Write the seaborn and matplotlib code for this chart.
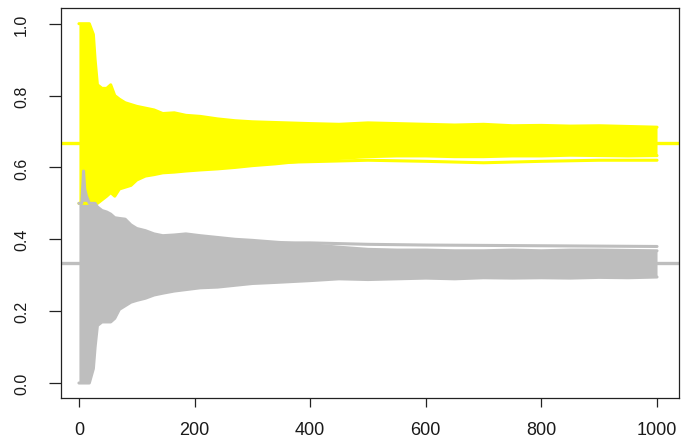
import matplotlib
matplotlib.use("Agg")
import matplotlib.pyplot as plt
import seaborn as sns

steps = [0, 5, 8, 10, 13, 18, 25, 28, 32, 40, 48, 55, 62, 70, 80, 90, 100,
         115, 130, 145, 165, 185, 210, 240, 270, 300, 340, 400, 450, 500, 550,
         600, 650, 700, 750, 800, 850, 900, 950, 1000]

# envelope of the yellow runs (proportion of successes)
yellow_upper = [1.0, 1.0, 1.0, 1.0, 1.0, 1.0, 0.97, 0.90, 0.83, 0.82, 0.82,
                0.83, 0.80, 0.79, 0.78, 0.775, 0.77, 0.765, 0.76, 0.75, 0.752,
                0.745, 0.742, 0.735, 0.73, 0.727, 0.725, 0.722, 0.72, 0.724,
                0.722, 0.72, 0.718, 0.72, 0.716, 0.717, 0.715, 0.716, 0.714,
                0.712]
yellow_lower = [0.5, 0.5, 0.5, 0.5, 0.5, 0.5, 0.5, 0.5, 0.5, 0.51, 0.52, 0.53,
                0.52, 0.54, 0.545, 0.55, 0.565, 0.576, 0.58, 0.585, 0.587,
                0.59, 0.593, 0.596, 0.60, 0.605, 0.61, 0.62, 0.625, 0.63,
                0.632, 0.632, 0.63, 0.63, 0.632, 0.632, 0.634, 0.633, 0.632,
                0.633]

# envelope of the grey runs (proportion of failures)
grey_upper = [0.5, 0.5, 0.59, 0.54, 0.52, 0.5, 0.5, 0.5, 0.49, 0.48, 0.476,
              0.47, 0.46, 0.458, 0.456, 0.44, 0.43, 0.424, 0.415, 0.41, 0.412,
              0.415, 0.41, 0.405, 0.40, 0.397, 0.392, 0.385, 0.378, 0.372,
              0.37, 0.37, 0.368, 0.368, 0.37, 0.368, 0.37, 0.37, 0.369, 0.368]
grey_lower = [0.0, 0.0, 0.0, 0.0, 0.0, 0.0, 0.04, 0.10, 0.16, 0.17, 0.17,
              0.17, 0.18, 0.205, 0.215, 0.225, 0.23, 0.236, 0.245, 0.25,
              0.256, 0.26, 0.265, 0.267, 0.272, 0.277, 0.28, 0.285, 0.29,
              0.288, 0.29, 0.292, 0.29, 0.293, 0.292, 0.293, 0.292, 0.294,
              0.293, 0.295]

# a couple of runs that stray just outside the bands
stray_steps = [300, 400, 500, 600, 700, 800, 900, 1000]
yellow_stray = [0.612, 0.616, 0.62, 0.617, 0.613, 0.617, 0.62, 0.62]
grey_stray = [0.39, 0.39, 0.386, 0.384, 0.383, 0.382, 0.381, 0.38]

# expected values
p_success = 2 / 3
p_fail = 1 / 3

YELLOW = "#FFFF00"
GREY = "#BEBEBE"

sns.set_style("white")
plt.rcParams["font.family"] = ["Liberation Sans", "DejaVu Sans"]

fig = plt.figure(figsize=(6.81, 4.39), dpi=100)
ax = fig.add_axes([61 / 681, 1 - 399 / 439, 618 / 681, 390 / 439])

ax.axhline(p_success, color=YELLOW, lw=2.4, zorder=1)
ax.axhline(p_fail, color=GREY, lw=2.4, zorder=1)

for upper, lower, stray, col in [(yellow_upper, yellow_lower, yellow_stray, YELLOW),
                                 (grey_upper, grey_lower, grey_stray, GREY)]:
    ax.fill_between(steps, lower, upper, color=col, lw=0, zorder=2)
    sns.lineplot(x=steps, y=upper, color=col, lw=2.2, estimator=None, ax=ax, zorder=3)
    sns.lineplot(x=steps, y=lower, color=col, lw=2.2, estimator=None, ax=ax, zorder=3)
    sns.lineplot(x=stray_steps, y=stray, color=col, lw=2.2, estimator=None, ax=ax, zorder=3)

ax.set_xlim(-31, 1038)
ax.set_ylim(-0.0417, 1.0437)
ax.set_xticks([0, 200, 400, 600, 800, 1000])
ax.set_yticks([0.0, 0.2, 0.4, 0.6, 0.8, 1.0])
ax.set_yticklabels(["0.0", "0.2", "0.4", "0.6", "0.8", "1.0"], rotation=90, va="center")
ax.tick_params(axis="x", direction="out", length=6.5, width=0.9, color="#222222",
               labelsize=13, pad=10, labelcolor="#1a1a1a", bottom=True)
ax.tick_params(axis="y", direction="out", length=9, width=0.9, color="#222222",
               labelsize=11.5, pad=14, labelcolor="#1a1a1a", left=True)
ax.set_xlabel("")
ax.set_ylabel("")
for s in ax.spines.values():
    s.set_color("#222222")
    s.set_linewidth(0.9)

fig.savefig("out.png", dpi=100)
